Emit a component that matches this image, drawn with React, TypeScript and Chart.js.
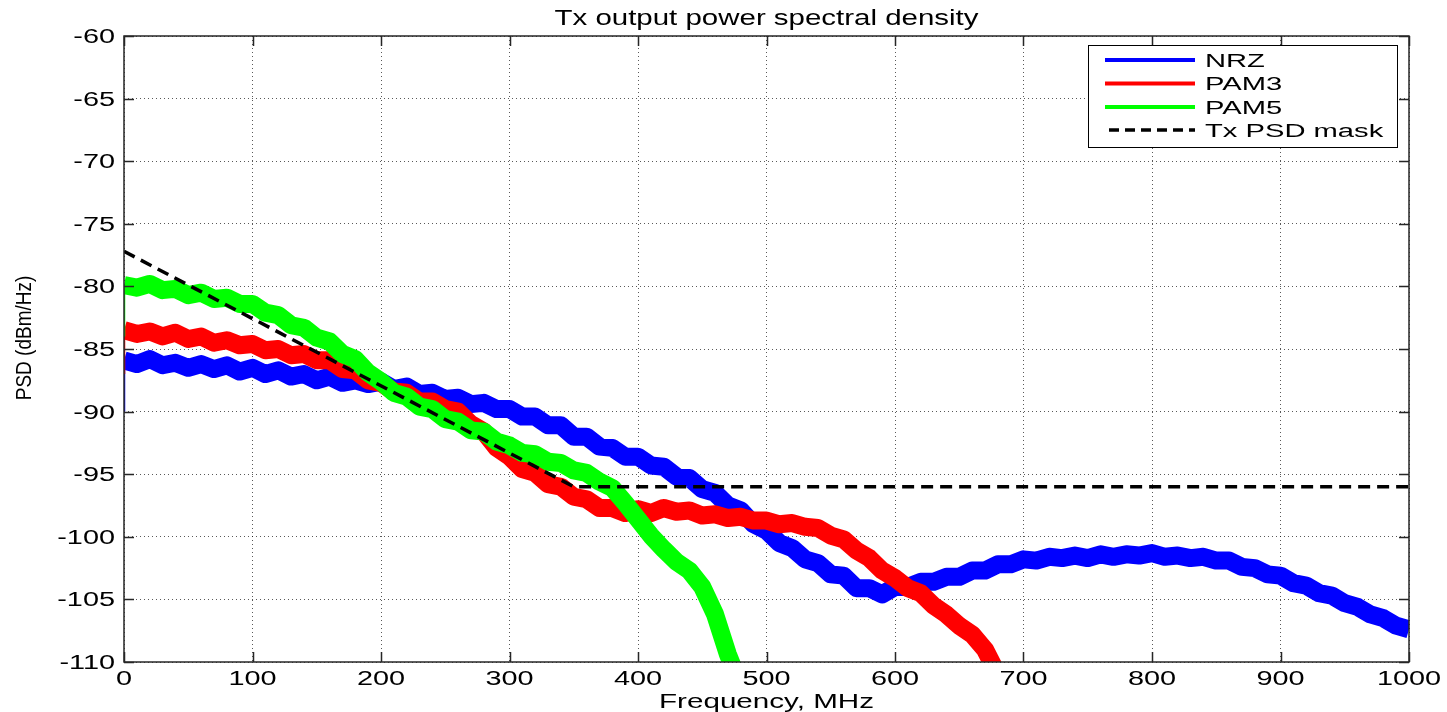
import React, { useEffect, useRef } from 'react';
import { Chart, registerables } from 'chart.js';

Chart.register(...registerables);

const TITLE = 'Tx output power spectral density';
const X_LABEL = 'Frequency, MHz';
const Y_LABEL = 'PSD (dBm/Hz)';
const SERIES_NAMES = ['NRZ', 'PAM3', 'PAM5', 'Tx PSD mask'];
const SERIES_COLORS = ['#0000ff', '#ff0000', '#00ff00', '#000000'];

const FREQ_STEP = 10; // MHz between samples
const X_MIN = 0;
const X_MAX = 1000;
const X_STEP = 100;
const Y_MIN = -110;
const Y_MAX = -60;
const Y_STEP = 5;
const xTickLabels = ['0', '100', '200', '300', '400', '500', '600', '700', '800', '900', '1000'];
const yTickLabels = ['-60', '-65', '-70', '-75', '-80', '-85', '-90', '-95', '-100', '-105', '-110'];

// NRZ PSD, 0..1000 MHz every 10 MHz
const nrzPSD = [
  -85.9, -86.2, -85.8, -86.3, -86.1, -86.5, -86.2, -86.6, -86.3, -86.8,
  -86.5, -87.0, -86.7, -87.2, -87.0, -87.5, -87.2, -87.7, -87.5, -87.8,
  -87.6, -88.2, -88.0, -88.6, -88.5, -89.0, -88.9, -89.4, -89.3, -89.8,
  -89.8, -90.4, -90.4, -91.1, -91.1, -92.0, -92.0, -92.8, -92.9, -93.6,
  -93.6, -94.3, -94.4, -95.2, -95.3, -96.2, -96.5, -97.5, -97.9, -99.0,
  -99.5, -100.5, -100.9, -101.8, -102.1, -103.0, -103.1, -104.1, -104.1, -104.6,
  -104.0, -104.0, -103.6, -103.6, -103.2, -103.2, -102.7, -102.7, -102.2, -102.2,
  -101.8, -101.9, -101.6, -101.7, -101.5, -101.7, -101.4, -101.6, -101.4, -101.5,
  -101.3, -101.6, -101.5, -101.7, -101.6, -101.9, -101.9, -102.4, -102.5, -103.0,
  -103.1, -103.7, -103.9, -104.5, -104.7, -105.3, -105.6, -106.2, -106.5, -107.1,
  -107.4,
];

// PAM3 PSD, 0..680 MHz every 10 MHz
const pam3PSD = [
  -83.5, -83.8, -83.6, -84.0, -83.7, -84.2, -84.0, -84.5, -84.3, -84.7,
  -84.6, -85.1, -85.0, -85.5, -85.4, -85.9, -85.9, -86.6, -86.7, -87.5,
  -87.7, -88.4, -88.5, -89.2, -89.2, -89.8, -90.0, -91.0, -91.6, -92.9,
  -93.6, -94.6, -94.9, -95.8, -96.0, -96.8, -97.0, -97.7, -97.7, -98.1,
  -97.8, -98.1, -97.7, -98.0, -97.9, -98.3, -98.2, -98.5, -98.4, -98.7,
  -98.7, -99.0, -98.9, -99.2, -99.3, -99.9, -100.2, -101.1, -101.7, -102.7,
  -103.3, -104.1, -104.5, -105.5, -106.2, -107.1, -107.8, -109.0, -111.0,
];

// PAM5 PSD, 0..480 MHz every 10 MHz
const pam5PSD = [
  -79.9, -80.1, -79.8, -80.3, -80.2, -80.7, -80.5, -81.0, -80.9, -81.4,
  -81.4, -82.1, -82.3, -83.1, -83.3, -84.1, -84.4, -85.4, -85.8, -86.9,
  -87.6, -88.5, -88.8, -89.6, -89.8, -90.6, -90.8, -91.5, -91.6, -92.4,
  -92.7, -93.3, -93.4, -94.0, -94.1, -94.7, -94.9, -95.6, -96.1, -97.3,
  -98.6, -99.9, -101.0, -102.0, -102.7, -104.0, -106.2, -109.4, -112.0,
];

// Tx PSD mask breakpoints
const maskFreq = [0, 350, 1000];
const maskPSD = [-77.2, -96, -96];

// Thin start transients at 0 MHz
const spikeFreq = [0, 0];
const nrzSpike = [-90, -86];
const pam3Spike = [-87, -83.6];
const pam5Spike = [-84, -80];

const FONT = '"Liberation Sans", Arial, Helvetica, sans-serif';

function toPoints(values: number[], step: number) {
  return values.map((v, i) => ({ x: i * step, y: v }));
}
function pairPoints(xs: number[], ys: number[]) {
  return xs.map((x, i) => ({ x, y: ys[i] }));
}

function stretchedText(
  ctx: CanvasRenderingContext2D,
  text: string,
  x: number,
  y: number,
  sx: number,
  align: CanvasTextAlign
) {
  ctx.save();
  ctx.translate(x, y);
  ctx.scale(sx, 1);
  ctx.textAlign = align;
  ctx.textBaseline = 'alphabetic';
  ctx.fillText(text, 0, 0);
  ctx.restore();
}

const decorPlugin = {
  id: 'matlabDecor',
  afterDraw(chart: any) {
    const { ctx, chartArea: a, scales } = chart;
    const xs = scales.x;
    const ys = scales.y;
    ctx.save();

    // Frame
    ctx.strokeStyle = '#262626';
    ctx.lineWidth = 1.5;
    ctx.setLineDash([]);
    ctx.strokeRect(a.left, a.top, a.right - a.left, a.bottom - a.top);

    // Inward ticks
    const TL = 10;
    ctx.beginPath();
    xs.ticks.forEach((t: any) => {
      const px = Math.round(xs.getPixelForValue(t.value)) + 0.5;
      ctx.moveTo(px, a.bottom);
      ctx.lineTo(px, a.bottom - TL);
      ctx.moveTo(px, a.top);
      ctx.lineTo(px, a.top + TL);
    });
    ys.ticks.forEach((t: any) => {
      const py = Math.round(ys.getPixelForValue(t.value)) + 0.5;
      ctx.moveTo(a.left, py);
      ctx.lineTo(a.left + TL, py);
      ctx.moveTo(a.right, py);
      ctx.lineTo(a.right - TL, py);
    });
    ctx.stroke();

    // Tick labels
    ctx.fillStyle = '#000';
    ctx.font = `19.5px ${FONT}`;
    xs.ticks.forEach((t: any) => {
      const px = xs.getPixelForValue(t.value);
      stretchedText(ctx, String(t.label), px, 684.5, 1.48, 'center');
    });
    ys.ticks.forEach((t: any) => {
      const py = ys.getPixelForValue(t.value);
      stretchedText(ctx, String(t.label), 115, py + 7, 1.48, 'right');
    });

    // Title
    ctx.font = `22px ${FONT}`;
    const tw = ctx.measureText(TITLE).width;
    stretchedText(ctx, TITLE, (a.left + a.right) / 2, 25, 424 / tw, 'center');

    // X axis title
    ctx.font = `21px ${FONT}`;
    const xw = ctx.measureText(X_LABEL).width;
    stretchedText(ctx, X_LABEL, (a.left + a.right) / 2, 708, 215 / xw, 'center');

    // Y axis title (rotated)
    ctx.save();
    ctx.font = `19px ${FONT}`;
    ctx.translate(24.5, 338);
    ctx.scale(1.15, 1);
    ctx.rotate(-Math.PI / 2);
    ctx.textAlign = 'center';
    ctx.textBaseline = 'middle';
    ctx.fillText(Y_LABEL, 0, 0);
    ctx.restore();

    // Legend box
    const bx = 1088, by = 45, bw = 309, bh = 102;
    ctx.fillStyle = '#fff';
    ctx.fillRect(bx, by, bw, bh);
    ctx.strokeStyle = '#000';
    ctx.lineWidth = 1;
    ctx.strokeRect(bx + 0.5, by + 0.5, bw, bh);
    const rowY = [60, 83.5, 107, 130];
    ctx.font = `18px ${FONT}`;
    SERIES_NAMES.forEach((name, i) => {
      const y = rowY[i];
      ctx.save();
      ctx.strokeStyle = SERIES_COLORS[i];
      ctx.lineWidth = i === 3 ? 3.5 : 4;
      ctx.setLineDash(i === 3 ? [10, 6] : []);
      ctx.beginPath();
      ctx.moveTo(i === 3 ? 1109 : 1105, y);
      ctx.lineTo(1195, y);
      ctx.stroke();
      ctx.restore();
      ctx.fillStyle = '#000';
      stretchedText(ctx, name, 1205, y + 6.5, 1.62, 'left');
    });

    ctx.restore();
  },
};

export default function App() {
  const canvasRef = useRef<HTMLCanvasElement | null>(null);

  useEffect(() => {
    document.body.style.margin = '0';
    const canvas = canvasRef.current;
    if (!canvas) return;

    const bandStyle = {
      pointRadius: 0,
      borderWidth: 18,
      tension: 0,
      borderJoinStyle: 'round' as const,
      borderCapStyle: 'butt' as const,
      fill: false,
      clip: 0,
    };
    const spikeStyle = {
      pointRadius: 0,
      borderWidth: 2.5,
      fill: false,
      clip: 0,
    };

    const chart = new Chart(canvas, {
      type: 'line',
      data: {
        datasets: [
          { label: SERIES_NAMES[0], data: toPoints(nrzPSD, FREQ_STEP), borderColor: SERIES_COLORS[0], order: 3, ...bandStyle },
          { label: SERIES_NAMES[1], data: toPoints(pam3PSD, FREQ_STEP), borderColor: SERIES_COLORS[1], order: 2, ...bandStyle },
          { label: SERIES_NAMES[2], data: toPoints(pam5PSD, FREQ_STEP), borderColor: SERIES_COLORS[2], order: 1, ...bandStyle },
          {
            label: SERIES_NAMES[3],
            data: pairPoints(maskFreq, maskPSD),
            borderColor: SERIES_COLORS[3],
            borderWidth: 3.5,
            borderDash: [12, 7],
            pointRadius: 0,
            fill: false,
            clip: 0,
            order: 0,
          },
          { label: 'nrz-start', data: pairPoints(spikeFreq, nrzSpike), borderColor: SERIES_COLORS[0], order: 3, ...spikeStyle },
          { label: 'pam3-start', data: pairPoints(spikeFreq, pam3Spike), borderColor: SERIES_COLORS[1], order: 2, ...spikeStyle },
          { label: 'pam5-start', data: pairPoints(spikeFreq, pam5Spike), borderColor: SERIES_COLORS[2], order: 1, ...spikeStyle },
        ] as any,
      },
      options: {
        animation: false,
        responsive: false,
        devicePixelRatio: 1,
        layout: { padding: { top: 36, right: 38, left: 0, bottom: 0 } },
        plugins: {
          legend: { display: false },
          title: { display: false },
          tooltip: { enabled: false },
        },
        scales: {
          x: {
            type: 'linear',
            min: X_MIN,
            max: X_MAX,
            afterFit: (s: any) => { s.height = 50; },
            ticks: {
              display: false,
              stepSize: X_STEP,
              callback: (_v: any, i: number) => xTickLabels[i],
            },
            grid: { color: 'rgba(0,0,0,0.65)', lineWidth: 1, drawTicks: false },
            border: { display: false, dash: [1, 3] },
          },
          y: {
            type: 'linear',
            min: Y_MIN,
            max: Y_MAX,
            afterFit: (s: any) => { s.width = 124; },
            ticks: {
              display: false,
              stepSize: Y_STEP,
              callback: (_v: any, i: number) => yTickLabels[yTickLabels.length - 1 - i],
            },
            grid: { color: 'rgba(0,0,0,0.65)', lineWidth: 1, drawTicks: false },
            border: { display: false, dash: [1, 3] },
          },
        },
      } as any,
      plugins: [decorPlugin],
    });

    return () => chart.destroy();
  }, []);

  return (
    <div style={{ width: 1447, height: 712, background: '#fff' }}>
      <canvas ref={canvasRef} width={1447} height={712} style={{ display: 'block', width: 1447, height: 712 }} />
    </div>
  );
}
